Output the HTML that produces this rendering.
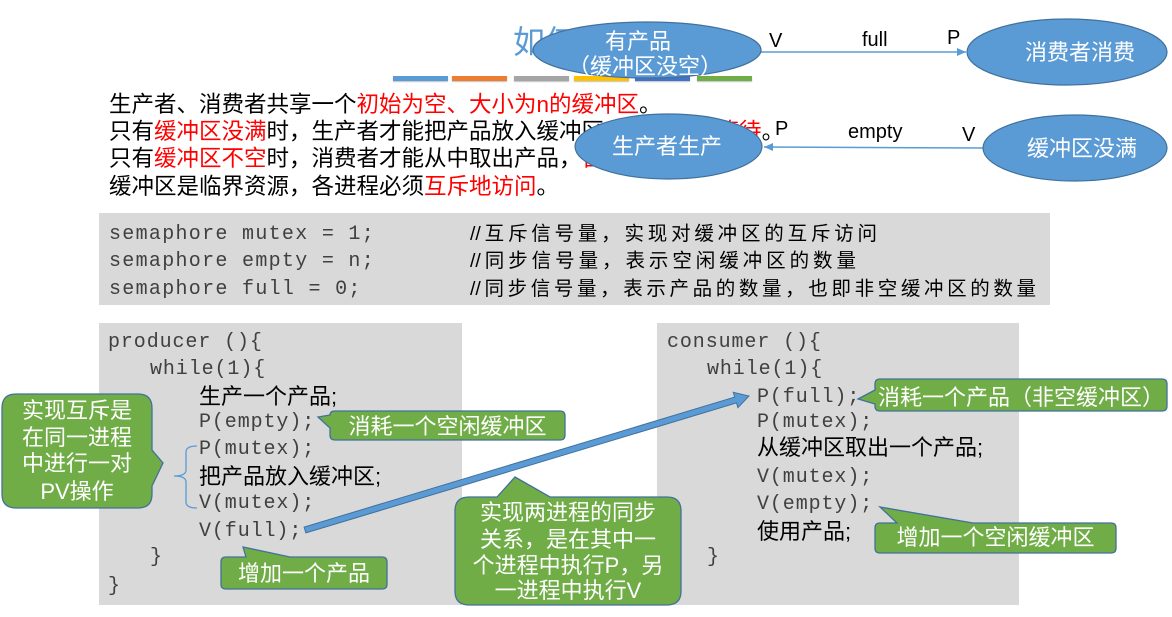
<!DOCTYPE html>
<html>
<head>
<meta charset="utf-8">
<style>
  html,body{margin:0;padding:0;background:#fff;}
  body{width:1172px;height:617px;position:relative;overflow:hidden;
       font-family:"Liberation Sans","Noto Sans CJK SC",sans-serif;}
  .a{position:absolute;white-space:pre;}
  .cn{font-family:"Liberation Sans","Noto Sans CJK SC",sans-serif;}
  .p{font-size:22.5px;line-height:26px;color:#000;}
  .r{color:#ff0000;}
  .box{position:absolute;background:#d9d9d9;}
  .m{font-family:"Liberation Mono","DejaVu Sans Mono",monospace;font-size:20px;line-height:26px;color:#404040;letter-spacing:0.9px;}
  .ms{font-family:"Liberation Mono","DejaVu Sans Mono",monospace;font-size:20px;line-height:26px;color:#404040;letter-spacing:1.3px;}
  .cm{font-family:"Liberation Sans","Noto Sans CJK SC",sans-serif;font-size:19.5px;line-height:26px;color:#000;text-align:justify;text-align-last:justify;}
  .ck{font-size:22px;line-height:26px;color:#000;}
  .w{color:#fff;font-size:22px;line-height:26px;text-align:center;}
  .lb{font-family:"Liberation Sans",sans-serif;font-size:20px;line-height:24px;color:#000;}
  svg{position:absolute;left:0;top:0;}
</style>
</head>
<body>

<!-- Title & bars -->
<div class="a cn" style="left:513px;top:22px;font-size:32px;line-height:40px;color:#5b9bd5;">如何实现</div>
<div class="a" style="left:393px;top:76px;width:55px;height:5px;background:#5b9bd5;box-shadow:0 1px 1px rgba(0,0,0,0.25);"></div>
<div class="a" style="left:452px;top:76px;width:55px;height:5px;background:#ed7d31;box-shadow:0 1px 1px rgba(0,0,0,0.25);"></div>
<div class="a" style="left:514px;top:76px;width:55px;height:5px;background:#a5a5a5;box-shadow:0 1px 1px rgba(0,0,0,0.25);"></div>
<div class="a" style="left:574px;top:76px;width:55px;height:5px;background:#ffc000;box-shadow:0 1px 1px rgba(0,0,0,0.25);"></div>
<div class="a" style="left:635px;top:76px;width:55px;height:5px;background:#4472c4;box-shadow:0 1px 1px rgba(0,0,0,0.25);"></div>
<div class="a" style="left:697px;top:76px;width:55px;height:5px;background:#70ad47;box-shadow:0 1px 1px rgba(0,0,0,0.25);"></div>

<!-- Paragraph -->
<div class="a p" style="left:109px;top:92px;">生产者、消费者共享一个<span class="r">初始为空、大小为n的缓冲区</span>。</div>
<div class="a p" style="left:109px;top:119px;">只有<span class="r">缓冲区没满</span>时，生产者才能把产品放入缓冲区，<span class="r">否则必须等待</span>。</div>
<div class="a p" style="left:109px;top:146px;">只有<span class="r">缓冲区不空</span>时，消费者才能从中取出产品，<span class="r">否则必须等待</span>。</div>
<div class="a p" style="left:109px;top:174px;">缓冲区是临界资源，各进程必须<span class="r">互斥地访问</span>。</div>

<!-- Semaphore box -->
<div class="box" style="left:99px;top:213px;width:951px;height:92px;"></div>
<div class="a ms" style="left:109px;top:222px;">semaphore mutex = 1;</div>
<div class="a ms" style="left:109px;top:249px;">semaphore empty = n;</div>
<div class="a ms" style="left:109px;top:277px;">semaphore full = 0;</div>
<div class="a cm" style="left:470px;top:221px;width:407px;">//互斥信号量，实现对缓冲区的互斥访问</div>
<div class="a cm" style="left:470px;top:248px;width:386px;">//同步信号量，表示空闲缓冲区的数量</div>
<div class="a cm" style="left:470px;top:276px;width:566px;">//同步信号量，表示产品的数量，也即非空缓冲区的数量</div>

<!-- Producer box -->
<div class="box" style="left:99px;top:323px;width:363px;height:282px;"></div>
<div class="a m" style="left:108px;top:330px;">producer (){</div>
<div class="a m" style="left:150px;top:357px;">while(1){</div>
<div class="a ck" style="left:199px;top:384px;">生产一个产品;</div>
<div class="a m" style="left:199px;top:410px;">P(empty);</div>
<div class="a m" style="left:199px;top:437px;">P(mutex);</div>
<div class="a ck" style="left:199px;top:464px;">把产品放入缓冲区;</div>
<div class="a m" style="left:199px;top:491px;">V(mutex);</div>
<div class="a m" style="left:199px;top:519px;">V(full);</div>
<div class="a m" style="left:150px;top:545px;">}</div>
<div class="a m" style="left:108px;top:574px;">}</div>

<!-- Consumer box -->
<div class="box" style="left:657px;top:323px;width:362px;height:282px;"></div>
<div class="a m" style="left:667px;top:330px;">consumer (){</div>
<div class="a m" style="left:707px;top:357px;">while(1){</div>
<div class="a m" style="left:757px;top:385px;">P(full);</div>
<div class="a m" style="left:757px;top:410px;">P(mutex);</div>
<div class="a ck" style="left:757px;top:435px;">从缓冲区取出一个产品;</div>
<div class="a m" style="left:757px;top:465px;">V(mutex);</div>
<div class="a m" style="left:757px;top:492px;">V(empty);</div>
<div class="a ck" style="left:757px;top:519px;">使用产品;</div>
<div class="a m" style="left:707px;top:545px;">}</div>

<svg width="1172" height="617" viewBox="0 0 1172 617">
  <defs>
    <marker id="ah" markerWidth="10" markerHeight="10" refX="9" refY="5" orient="auto" markerUnits="userSpaceOnUse">
      <path d="M0,1 L9,5 L0,9 Z" fill="#5b9bd5"/>
    </marker>
  </defs>
  <!-- connectors -->
  <line x1="761" y1="52" x2="966" y2="52" stroke="#5b9bd5" stroke-width="1.5" marker-end="url(#ah)"/>
  <line x1="983" y1="148" x2="764" y2="147" stroke="#5b9bd5" stroke-width="1.5" marker-end="url(#ah)"/>

  <!-- ellipses -->
  <ellipse cx="647" cy="50" rx="114" ry="28" fill="#5b9bd5" stroke="#41719c" stroke-width="1.2"/>
  <ellipse cx="1067" cy="52" rx="100" ry="33" fill="#5b9bd5" stroke="#41719c" stroke-width="1.2"/>
  <ellipse cx="1075" cy="148" rx="92" ry="33" fill="#5b9bd5" stroke="#41719c" stroke-width="1.2"/>
  <ellipse cx="668.5" cy="146.5" rx="93.5" ry="32.5" fill="#5b9bd5" stroke="#41719c" stroke-width="1.2"/>

  <!-- brace -->
  <path d="M197,446 Q186,446 186,452 V470 Q186,476 174,476 Q186,476 186,482 V502 Q186,508 197,508" fill="none" stroke="#5b9bd5" stroke-width="1.3"/>

  <!-- big arrow -->
  <polygon points="304.1,527.1 734.7,397.1 733.3,392.3 749,396 737.9,407.7 736.5,402.9 305.9,532.9" fill="#5b9bd5" stroke="#41719c" stroke-width="1"/>

  <!-- callouts -->
  <g fill="#70ad47" stroke="#41719c" stroke-width="1.3">
    <path d="M16,394 H138 Q152,394 152,408 V450 L163,463 L152,486 V494 Q152,508 138,508 H16 Q2,508 2,494 V408 Q2,394 16,394 Z"/>
    <path d="M335,411 H560 Q565,411 565,416 V435 Q565,440 560,440 H335 Q330,440 330,435 V428 L318,417 L330,415 Q330,411 335,411 Z"/>
    <path d="M226,557 H246 L243,547 L290,557 H382 Q387,557 387,562 V584 Q387,589 382,589 H226 Q221,589 221,584 V562 Q221,557 226,557 Z"/>
    <path d="M469,497 H497 L515,477 L550,497 H667 Q681,497 681,511 V591 Q681,605 667,605 H469 Q455,605 455,591 V511 Q455,497 469,497 Z"/>
    <path d="M880,379 H1162 Q1167,379 1167,384 V406 Q1167,411 1162,411 H880 Q875,411 875,406 V404 L858,399 L875,390 V384 Q875,379 880,379 Z"/>
    <path d="M880,523 H897 L880,507 L973,523 H1111 Q1116,523 1116,528 V548 Q1116,553 1111,553 H880 Q875,553 875,548 V528 Q875,523 880,523 Z"/>
  </g>
</svg>

<!-- connector labels -->
<div class="a lb" style="left:769px;top:29px;z-index:2;">V</div>
<div class="a lb" style="left:862px;top:28px;z-index:2;">full</div>
<div class="a lb" style="left:947px;top:26px;z-index:2;">P</div>
<div class="a lb" style="left:775px;top:117px;z-index:2;">P</div>
<div class="a lb" style="left:848px;top:120px;z-index:2;">empty</div>
<div class="a lb" style="left:962px;top:123px;z-index:2;">V</div>

<!-- ellipse labels -->
<div class="a cn w" style="left:538px;top:29px;width:200px;z-index:2;">有产品</div>
<div class="a cn w" style="left:545px;top:54px;width:200px;z-index:2;">（缓冲区没空）</div>
<div class="a cn w" style="left:980px;top:40px;width:200px;z-index:2;">消费者消费</div>
<div class="a cn w" style="left:982px;top:136px;width:200px;z-index:2;">缓冲区没满</div>
<div class="a cn w" style="left:567px;top:134px;width:200px;z-index:2;">生产者生产</div>

<!-- callout labels -->
<div class="a cn w" style="left:2px;top:398px;width:150px;z-index:2;">实现互斥是</div>
<div class="a cn w" style="left:2px;top:425px;width:150px;z-index:2;">在同一进程</div>
<div class="a cn w" style="left:2px;top:451px;width:150px;z-index:2;">中进行一对</div>
<div class="a cn w" style="left:2px;top:479px;width:150px;z-index:2;">PV操作</div>

<div class="a cn w" style="left:330px;top:414px;width:235px;z-index:2;">消耗一个空闲缓冲区</div>
<div class="a cn w" style="left:221px;top:561px;width:166px;z-index:2;">增加一个产品</div>

<div class="a cn w" style="left:455px;top:500px;width:226px;z-index:2;">实现两进程的同步</div>
<div class="a cn w" style="left:455px;top:527px;width:226px;z-index:2;">关系，是在其中一</div>
<div class="a cn w" style="left:455px;top:553px;width:226px;z-index:2;">个进程中执行P，另</div>
<div class="a cn w" style="left:455px;top:578px;width:226px;z-index:2;">一进程中执行V</div>

<div class="a cn w" style="left:875px;top:385px;width:292px;z-index:2;">消耗一个产品（非空缓冲区）</div>
<div class="a cn w" style="left:875px;top:525px;width:241px;z-index:2;">增加一个空闲缓冲区</div>

</body>
</html>
